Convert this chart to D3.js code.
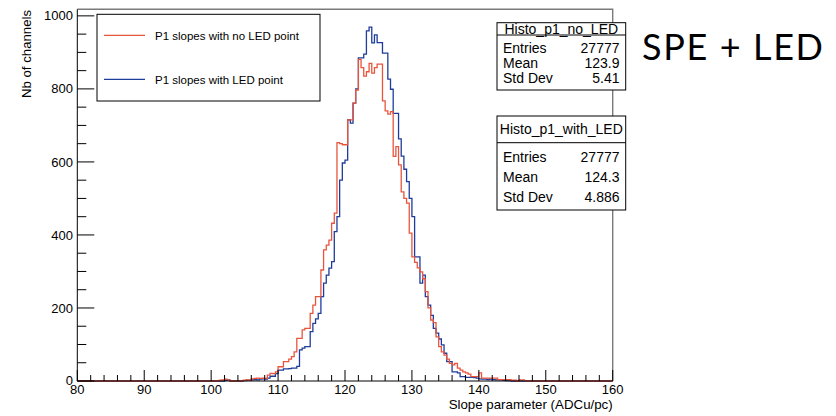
<!DOCTYPE html>
<html><head><meta charset="utf-8">
<script src="https://cdn.jsdelivr.net/npm/d3@7"></script>
<style>
html,body{margin:0;padding:0;background:#fff;}
svg{display:block;}
text{font-family:"Liberation Sans",Arial,Helvetica,sans-serif;}
</style></head>
<body>
<svg id="c" width="836" height="416"></svg>
<script>
// ---------- data ----------
const binLow = 80, binHigh = 160, nBins = 200;   // histogram axis: 200 bins of 0.4
const firstBin = 52;                              // index of first listed bin (x = 100.8)
const yMax = 1018;
const noLED = [
  0,2,3,5,3,0,0,0,0,0,
  2,3,2,6,7,8,7,8,7,16,
  21,20,25,39,39,53,53,60,67,80,
  117,117,140,144,144,185,208,231,231,304,
  359,372,386,432,460,653,650,647,647,715,
  715,761,797,881,858,835,847,870,843,858,
  868,868,767,740,731,738,615,642,592,518,
  500,487,405,340,325,310,299,280,245,200,
  167,160,121,94,80,71,60,48,44,48,
  35,30,25,22,19,12,12,12,22,8,
  8,8,8,8,8,4,4,4,4,4,
  2,2,0,3,3,0
];
const withLED = [
  0,0,0,2,3,0,0,0,0,0,
  1,2,2,3,4,3,5,6,5,8,
  13,13,20,30,30,33,33,34,35,35,
  40,85,90,94,94,135,158,170,185,231,
  268,290,309,327,409,450,550,597,605,715,
  706,761,800,885,885,895,959,969,926,948,
  927,927,898,898,827,799,733,733,663,616,
  580,546,500,450,340,340,268,290,231,208,
  180,144,131,115,99,76,53,53,25,25,
  22,12,12,10,10,10,9,8,6,5,
  5,4,5,4,3,3,3,2,1,1,
  0,0,0,0,0,0
];
const legendLabels = ["P1 slopes with no LED point", "P1 slopes with LED point"];
const statsNames = ["Histo_p1_no_LED", "Histo_p1_with_LED"];
const statsRows = ["Entries", "Mean", "Std Dev"];
const statsNoLED = ["27777", "123.9", "5.41"];
const statsWithLED = ["27777", "124.3", "4.886"];
const xTicksMajor = [80,90,100,110,120,130,140,150,160];
const yTicksMajor = [0,200,400,600,800,1000];
const xTitle = "Slope parameter (ADCu/pc)";
const yTitle = "Nb of channels";
const sideNote = "SPE + LED";

// ---------- layout ----------
const L = 77.3, R = 612.7, T = 9.3, B = 381;
const svg = d3.select("#c");
svg.append("rect").attr("width",836).attr("height",416).attr("fill","#fff");

const x = d3.scaleLinear().domain([binLow, binHigh]).range([L, R]);
const y = d3.scaleLinear().domain([0, yMax]).range([B, T]);

// frame (top + right grey)
svg.append("path").attr("d", `M${L},${T}H${R}V${B}`).attr("fill","none")
  .attr("stroke","#7a7a7a").attr("stroke-width",1.4);

// histograms
const bw = (binHigh - binLow) / nBins;
function steps(arr){
  const pts = [];
  for (let j = 0; j < nBins; j++){
    const k = j - firstBin;
    const v = (k >= 0 && k < arr.length) ? arr[k] : 0;
    pts.push([binLow + j*bw, v]);
  }
  pts.push([binHigh, pts[pts.length-1][1]]);
  return pts;
}
const line = d3.line().x(d=>x(d[0])).y(d=>y(d[1])).curve(d3.curveStepAfter);
const blue = "#1f3c9c", red = "#e8553d";
svg.append("path").attr("d", line(steps(withLED))).attr("fill","none")
  .attr("stroke", blue).attr("stroke-width",1.3);
svg.append("path").attr("d", line(steps(noLED))).attr("fill","none")
  .attr("stroke", red).attr("stroke-width",1.3);

// axes
const xMinor = d3.range(binLow, binHigh + 0.001, 2).filter(v => v % 10 !== 0);
const yMinor = d3.range(0, yMax, 50).filter(v => v % 200 !== 0);
const ax = svg.append("g").attr("stroke","#000").attr("stroke-width",1);
ax.append("line").attr("x1",L).attr("x2",R).attr("y1",B).attr("y2",B);
ax.append("line").attr("x1",L).attr("x2",L).attr("y1",T).attr("y2",B);
xTicksMajor.forEach(v => ax.append("line").attr("x1",x(v)).attr("x2",x(v)).attr("y1",B).attr("y2",B-11));
xMinor.forEach(v => ax.append("line").attr("x1",x(v)).attr("x2",x(v)).attr("y1",B).attr("y2",B-6));
yTicksMajor.forEach(v => ax.append("line").attr("x1",L).attr("x2",L+17).attr("y1",y(v)).attr("y2",y(v)));
yMinor.forEach(v => ax.append("line").attr("x1",L).attr("x2",L+9).attr("y1",y(v)).attr("y2",y(v)));

svg.append("g").selectAll("text").data(xTicksMajor).join("text")
  .attr("x", d => x(d)).attr("y", B + 12.5).attr("text-anchor","middle")
  .attr("font-size",13).text(d => d);
svg.append("g").selectAll("text").data(yTicksMajor).join("text")
  .attr("x", 73).attr("y", d => y(d) + (d === 0 ? 3.5 : 4.6)).attr("text-anchor","end")
  .attr("font-size",13).text(d => d);

svg.append("text").attr("x", R).attr("y", 409).attr("text-anchor","end")
  .attr("font-size",13.3).text(xTitle);
svg.append("text").attr("transform","translate(31,10) rotate(-90)")
  .attr("text-anchor","end").attr("font-size",13.2).text(yTitle);

// legend
const lg = svg.append("g");
lg.append("rect").attr("x",97).attr("y",14.3).attr("width",223).attr("height",86.7)
  .attr("fill","#fff").attr("stroke","#000").attr("stroke-width",1);
[[red, 35.3, 40], [blue, 79.3, 84]].forEach((c, i) => {
  lg.append("line").attr("x1",104).attr("x2",145).attr("y1",c[1]).attr("y2",c[1])
    .attr("stroke",c[0]).attr("stroke-width",1.2);
  lg.append("text").attr("x",155).attr("y",c[2]).attr("font-size",11.5).text(legendLabels[i]);
});

// stats boxes
function stats(top, sep, bottom, titleBase, rowBases, name, vals){
  const g = svg.append("g");
  g.append("rect").attr("x",497).attr("y",top).attr("width",128.7).attr("height",bottom-top)
    .attr("fill","#fff").attr("stroke","#000").attr("stroke-width",1);
  g.append("line").attr("x1",497).attr("x2",625.7).attr("y1",sep).attr("y2",sep)
    .attr("stroke","#000").attr("stroke-width",1);
  g.append("text").attr("x",561.3).attr("y",titleBase).attr("text-anchor","middle")
    .attr("font-size",14).text(name);
  statsRows.forEach((r, i) => {
    g.append("text").attr("x",503).attr("y",rowBases[i]).attr("font-size",14).text(r);
    g.append("text").attr("x",619.5).attr("y",rowBases[i]).attr("text-anchor","end")
      .attr("font-size",14).text(vals[i]);
  });
}
stats(22.7, 35, 90, 33.5, [53.3, 68.3, 83.3], statsNames[0], statsNoLED);
stats(116, 142.7, 210, 133.5, [161.7, 181.7, 201.7], statsNames[1], statsWithLED);

svg.append("text").attr("x",642).attr("y",60).attr("font-size",36)
  .attr("textLength",181).attr("lengthAdjust","spacing")
  .style("font-family","Lato, 'Open Sans', sans-serif").style("font-weight",400).text(sideNote);
</script>
</body></html>
